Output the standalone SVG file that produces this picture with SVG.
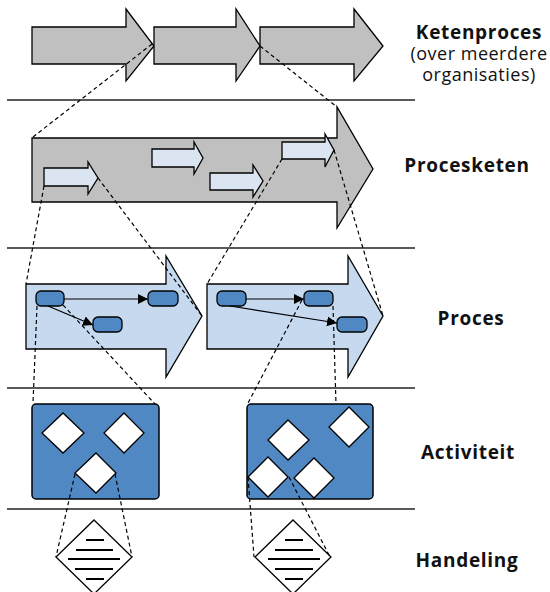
<svg xmlns="http://www.w3.org/2000/svg" width="550" height="592" viewBox="0 0 550 592">
  <style>
    .grey { fill: #c0c0c0; stroke: #000; stroke-width: 1.3; stroke-linejoin: miter; }
    .pale { fill: #dbe5f1; stroke: #000; stroke-width: 1.3; }
    .proc { fill: #c6d9ee; stroke: #000; stroke-width: 1.3; }
    .step { fill: #4f88c2; stroke: #000; stroke-width: 1.3; }
    .box { fill: #4f88c2; stroke: #000; stroke-width: 1.5; }
    .dia { fill: #fff; stroke: #000; stroke-width: 1.3; }
    .sep { stroke: #222; stroke-width: 1.5; }
    .dash { stroke: #000; stroke-width: 1.2; stroke-dasharray: 4 3; fill: none; }
    .flow { stroke: #000; stroke-width: 1.2; fill: none; marker-end: url(#tri); }
    .rule { stroke: #000; stroke-width: 2; }
    .lbl { font-family: "Open Sans", "Noto Sans", sans-serif; font-weight: bold; font-size: 19px; letter-spacing: 0.7px; fill: #111; text-anchor: middle; }
    .sub { font-family: "Open Sans", "Noto Sans", sans-serif; font-size: 18px; letter-spacing: 0.5px; fill: #111; text-anchor: middle; }
  </style>
  <defs>
    <marker id="tri" viewBox="0 0 10 10" refX="10" refY="5" markerWidth="10" markerHeight="10" markerUnits="userSpaceOnUse" orient="auto">
      <path d="M0,0 L10,5 L0,10 z" fill="#000"/>
    </marker>
  </defs>

  <!-- level separators -->
  <g id="separators">
    <line class="sep" x1="7" y1="100" x2="415" y2="100"/>
    <line class="sep" x1="7" y1="248" x2="415" y2="248"/>
    <line class="sep" x1="7" y1="388" x2="415" y2="388"/>
    <line class="sep" x1="7" y1="509" x2="415" y2="509"/>
  </g>

  <!-- chain of processes across organisations -->
  <g id="keten-1"><path class="grey" d="M32,27 H126 V9 L154,46 L126,81 V64 H32 Z"/></g>
  <g id="keten-2"><path class="grey" d="M154,27 H236 V9 L260,46 L236,81 V64 H154 Z"/></g>
  <g id="keten-3"><path class="grey" d="M260,27 H354 V9 L383,46 L354,81 V64 H260 Z"/></g>

  <!-- process chain -->
  <g id="procesketen">
    <path class="grey" d="M32,138 H337 V107 L373,169 L337,228 V202 H32 Z"/>
  </g>
  <g id="schakel-1"><path class="pale" d="M44,168 H88 V162 L98,178 L88,194 V186 H44 Z"/></g>
  <g id="schakel-2"><path class="pale" d="M152,149 H194 V142 L203,158 L194,174 V167 H152 Z"/></g>
  <g id="schakel-3"><path class="pale" d="M210,173 H253 V165 L263,181 L253,197 V190 H210 Z"/></g>
  <g id="schakel-4"><path class="pale" d="M282,142 H325 V134 L334,150 L325,167 V159 H282 Z"/></g>

  <!-- processes -->
  <g id="proces-1"><path class="proc" d="M26,284 H166 V256 L202,316 L166,377 V349 H26 Z"/></g>
  <g id="proces-2"><path class="proc" d="M207,284 H348 V256 L383,316 L348,377 V349 H207 Z"/></g>
  <g id="stap-1"><rect class="step" x="36" y="291" width="28" height="15" rx="5"/></g>
  <g id="stap-2"><rect class="step" x="148" y="291" width="30" height="15" rx="5"/></g>
  <g id="stap-3"><rect class="step" x="93" y="317" width="29" height="15" rx="5"/></g>
  <g id="stap-4"><rect class="step" x="217" y="291" width="29" height="15" rx="5"/></g>
  <g id="stap-5"><rect class="step" x="304" y="291" width="29" height="15" rx="5"/></g>
  <g id="stap-6"><rect class="step" x="337" y="317" width="30" height="15" rx="5"/></g>

  <!-- activities -->
  <g id="activiteit-1">
    <rect class="box" x="32" y="404" width="127" height="95" rx="4"/>
    <path class="dia" d="M63,413 L84,433 L63,453 L42,433 Z"/>
    <path class="dia" d="M124,413 L144,433 L124,453 L104,433 Z"/>
    <path class="dia" d="M96,453 L116,473 L96,493 L75,473 Z"/>
  </g>
  <g id="activiteit-2">
    <rect class="box" x="247" y="404" width="126" height="95" rx="4"/>
    <path class="dia" d="M288,420 L309,440 L288,460 L268,440 Z"/>
    <path class="dia" d="M349,407 L369,427 L349,447 L329,427 Z"/>
    <path class="dia" d="M268,457 L288,477 L268,497 L248,477 Z"/>
    <path class="dia" d="M314,458 L334,478 L314,498 L294,478 Z"/>
  </g>

  <!-- actions -->
  <g id="handeling-1">
    <path class="dia" d="M94,520 L132,557 L94,594 L56,557 Z"/>
    <line class="rule" x1="86" y1="540" x2="104" y2="540"/>
    <line class="rule" x1="76" y1="550" x2="113" y2="550"/>
    <line class="rule" x1="68" y1="559" x2="120" y2="559"/>
    <line class="rule" x1="75" y1="569" x2="113" y2="569"/>
    <line class="rule" x1="86" y1="579" x2="104" y2="579"/>
  </g>
  <g id="handeling-2">
    <path class="dia" d="M293,520 L331,557 L293,594 L255,557 Z"/>
    <line class="rule" x1="285" y1="540" x2="303" y2="540"/>
    <line class="rule" x1="275" y1="550" x2="313" y2="550"/>
    <line class="rule" x1="268" y1="559" x2="320" y2="559"/>
    <line class="rule" x1="275" y1="569" x2="313" y2="569"/>
    <line class="rule" x1="285" y1="579" x2="303" y2="579"/>
  </g>

  <!-- flows between steps and zoom-in guides between levels -->
  <g id="connectors">
    <line class="flow" x1="64" y1="299" x2="148" y2="299"/>
    <line class="flow" x1="48" y1="306" x2="93" y2="325"/>
    <line class="flow" x1="246" y1="299" x2="304" y2="299"/>
    <line class="flow" x1="230" y1="306" x2="337" y2="323"/>

    <line class="dash" x1="152" y1="44" x2="33" y2="137"/>
    <line class="dash" x1="260" y1="46" x2="337" y2="107"/>

    <line class="dash" x1="44" y1="186" x2="26" y2="284"/>
    <line class="dash" x1="98" y1="178" x2="202" y2="316"/>
    <line class="dash" x1="282" y1="159" x2="207" y2="284"/>
    <line class="dash" x1="334" y1="150" x2="383" y2="316"/>

    <line class="dash" x1="37" y1="306" x2="33" y2="403"/>
    <line class="dash" x1="63" y1="305" x2="155" y2="404"/>
    <line class="dash" x1="302" y1="300" x2="247" y2="405"/>
    <line class="dash" x1="333" y1="306" x2="336" y2="404"/>

    <line class="dash" x1="75" y1="474" x2="56" y2="557"/>
    <line class="dash" x1="115" y1="474" x2="132" y2="557"/>
    <line class="dash" x1="248" y1="477" x2="254" y2="557"/>
    <line class="dash" x1="289" y1="477" x2="330" y2="557"/>
  </g>

  <!-- level names -->
  <g id="labels">
    <text class="lbl" x="479" y="39">Ketenproces</text>
    <text class="sub" x="479" y="60">(over meerdere</text>
    <text class="sub" x="479" y="81">organisaties)</text>
    <text class="lbl" x="467" y="172">Procesketen</text>
    <text class="lbl" x="471" y="325">Proces</text>
    <text class="lbl" x="468" y="459">Activiteit</text>
    <text class="lbl" x="467" y="567">Handeling</text>
  </g>
</svg>
